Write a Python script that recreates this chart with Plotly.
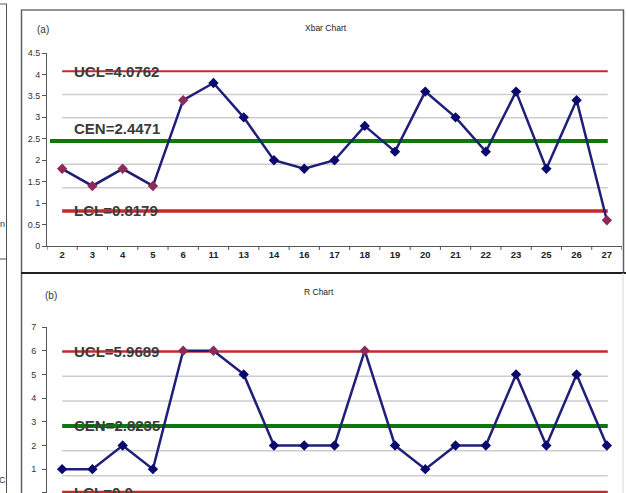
import plotly.graph_objects as go

# ---------------- data ----------------
samples = ["2", "3", "4", "5", "6", "11", "13", "14", "16", "17",
           "18", "19", "20", "21", "22", "23", "25", "26", "27"]
xbar_values = [1.8, 1.4, 1.8, 1.4, 3.4, 3.8, 3.0, 2.0, 1.8, 2.0,
               2.8, 2.2, 3.6, 3.0, 2.2, 3.6, 1.8, 3.4, 0.6]
r_values = [1, 1, 2, 1, 6, 6, 5, 2, 2, 2,
            6, 2, 1, 2, 2, 5, 2, 5, 2]
xbar_flags = [1, 1, 1, 1, 1, 0, 0, 0, 0, 0, 0, 0, 0, 0, 0, 0, 0, 0, 1]
r_flags = [0, 0, 0, 0, 1, 1, 0, 0, 0, 0, 1, 0, 0, 0, 0, 0, 0, 0, 0]
xbar_limits = {"UCL": 4.0762, "CEN": 2.4471, "LCL": 0.8179}
r_limits = {"UCL": 5.9689, "CEN": 2.8235, "LCL": 0.0}
xbar_label_text = ["UCL=4.0762", "CEN=2.4471", "LCL=0.8179"]
r_label_text = ["UCL=5.9689", "CEN=2.8235", "LCL=0.0"]

# ---------------- geometry helpers (pixels -> paper) ----------------
W, H = 626, 493
L, R = 47, 4
PW = W - L - R


def px(x):
    return (x - L) / PW


def py(y):
    return 1 - y / H


FONT = "Liberation Sans, Arial, sans-serif"
NAVY_LINE = "#1f1f78"
NAVY = "#0a0a6e"
MAROON = "#8e2a5a"
RED = "#c42a2a"
GREEN = "#0a7a0a"
ZONE = "#cdcdcd"

fig = go.Figure()
n = len(samples)
shapes = []
annotations = []


def add_chart(values, flags, limits, labels, xref, yref, ucl_w, lcl_w, cen_w,
              cen_shift, cen_start):
    ucl, cen, lcl = limits["UCL"], limits["CEN"], limits["LCL"]
    sig = (ucl - cen) / 3.0
    zones = [cen + k * sig for k in (-2, -1, 1, 2)]
    for z in zones:
        fig.add_trace(go.Scatter(x=[0, n - 1 + 0.03], y=[z, z], mode="lines",
                                 line=dict(color=ZONE, width=1.5),
                                 xaxis=xref, yaxis=yref, hoverinfo="skip",
                                 showlegend=False))
    for val, w, col, x0 in ((ucl, ucl_w, RED, 0), (lcl, lcl_w, RED, 0),
                            (cen, cen_w, GREEN, cen_start)):
        fig.add_trace(go.Scatter(x=[x0, n - 1 + 0.03], y=[val, val], mode="lines",
                                 line=dict(color=col, width=w),
                                 xaxis=xref, yaxis=yref, hoverinfo="skip",
                                 showlegend=False, cliponaxis=False))
    fig.add_trace(go.Scatter(
        x=list(range(n)), y=values, mode="lines+markers",
        line=dict(color=NAVY_LINE, width=2.5),
        marker=dict(symbol="diamond", size=8,
                    color=[MAROON if f else NAVY for f in flags],
                    line=dict(width=0)),
        xaxis=xref, yaxis=yref, showlegend=False))
    axr = "x" if xref == "x" else "x2"
    ayr = "y" if yref == "y" else "y2"
    for val, txt, shift in ((ucl, labels[0], 0), (cen, labels[1], cen_shift),
                            (lcl, labels[2], 0)):
        annotations.append(dict(x=0, y=val, xref=axr, yref=ayr, text=txt,
                                showarrow=False, xanchor="left", yanchor="middle",
                                xshift=10, yshift=shift,
                                font=dict(family=FONT, size=15, color="#3a3a3a",
                                          weight="bold")))


add_chart(xbar_values, xbar_flags, xbar_limits, xbar_label_text, "x", "y",
          2, 3.5, 4, 13, -0.4)
add_chart(r_values, r_flags, r_limits, r_label_text, "x2", "y2",
          2.5, 4, 4, 0, 0)

# ---------------- frames / artefacts ----------------
def pline(x0, y0, x1, y1, color, width):
    shapes.append(dict(type="line", xref="paper", yref="paper",
                       x0=px(x0), y0=py(y0), x1=px(x1), y1=py(y1),
                       line=dict(color=color, width=width), layer="above"))


pline(21, 10, 624, 10, "#707070", 1.5)
pline(21.5, 10, 21.5, 493, "#606060", 1.5)
pline(623.5, 10, 623.5, 273, "#606060", 1.5)
pline(21, 273, 626, 273, "#202020", 2)
pline(623, 273, 623, 493, "#d8d8d8", 1)
pline(0, 4, 7, 4, "#606060", 1)
pline(6.5, 4, 6.5, 493, "#505050", 1)
pline(0, 259, 7, 259, "#505050", 1)


def ptext(x, y, txt, size, color="#333333", weight="normal"):
    annotations.append(dict(x=px(x), y=py(y), xref="paper", yref="paper",
                            text=txt, showarrow=False, xanchor="center",
                            yanchor="middle",
                            font=dict(family=FONT, size=size, color=color,
                                      weight=weight)))


ptext(43, 30, "(a)", 10)
ptext(326, 28, "Xbar Chart", 8.5, "#222222")
ptext(51, 295, "(b)", 10)
ptext(319, 292, "R Chart", 8.5, "#222222")
ptext(2, 224, "n", 9)
ptext(2, 480, "C", 9)

# ---------------- axes ----------------
axis_common = dict(showgrid=False, zeroline=False, showline=True,
                   linecolor="#555555", linewidth=1, ticks="outside",
                   tickcolor="#555555", ticklen=4, automargin=False)

top_dom = [py(246), py(53)]
bot_dom = [0, py(327)]

fig.update_layout(
    template="none",
    width=W, height=H,
    margin=dict(l=L, r=R, t=0, b=0, autoexpand=False),
    paper_bgcolor="white", plot_bgcolor="white",
    showlegend=False,
    xaxis=dict(axis_common, domain=[0, 1], anchor="y", type="linear",
               range=[-0.5, n - 0.5], tickmode="array",
               tickvals=list(range(n)), ticktext=samples,
               ticks="", tickfont=dict(family=FONT, size=9.5, color="#222222",
                                       weight="bold")),
    yaxis=dict(axis_common, domain=top_dom, anchor="x", range=[0, 4.5],
               dtick=0.5, tickfont=dict(family=FONT, size=9, color="#333333")),
    xaxis2=dict(showgrid=False, zeroline=False, showline=False,
                showticklabels=False, ticks="", domain=[0, 1], anchor="y2",
                range=[-0.5, n - 0.5], automargin=False),
    yaxis2=dict(axis_common, domain=bot_dom, anchor="x2", range=[-0.006, 7],
                dtick=1, ticklabelstandoff=4,
                tickfont=dict(family=FONT, size=9, color="#333333")),
    shapes=shapes,
    annotations=annotations,
)

# boundary tick marks on the category axis of the Xbar chart
for i in range(n + 1):
    fig.add_shape(type="line", xref="x", yref="paper",
                  x0=i - 0.5, x1=i - 0.5, y0=py(246), y1=py(250),
                  line=dict(color="#555555", width=1))

fig.write_html("out.html",
               config={"displayModeBar": False},
               post_script="document.body.style.margin='0px';"
                           "document.body.style.overflow='hidden';")
